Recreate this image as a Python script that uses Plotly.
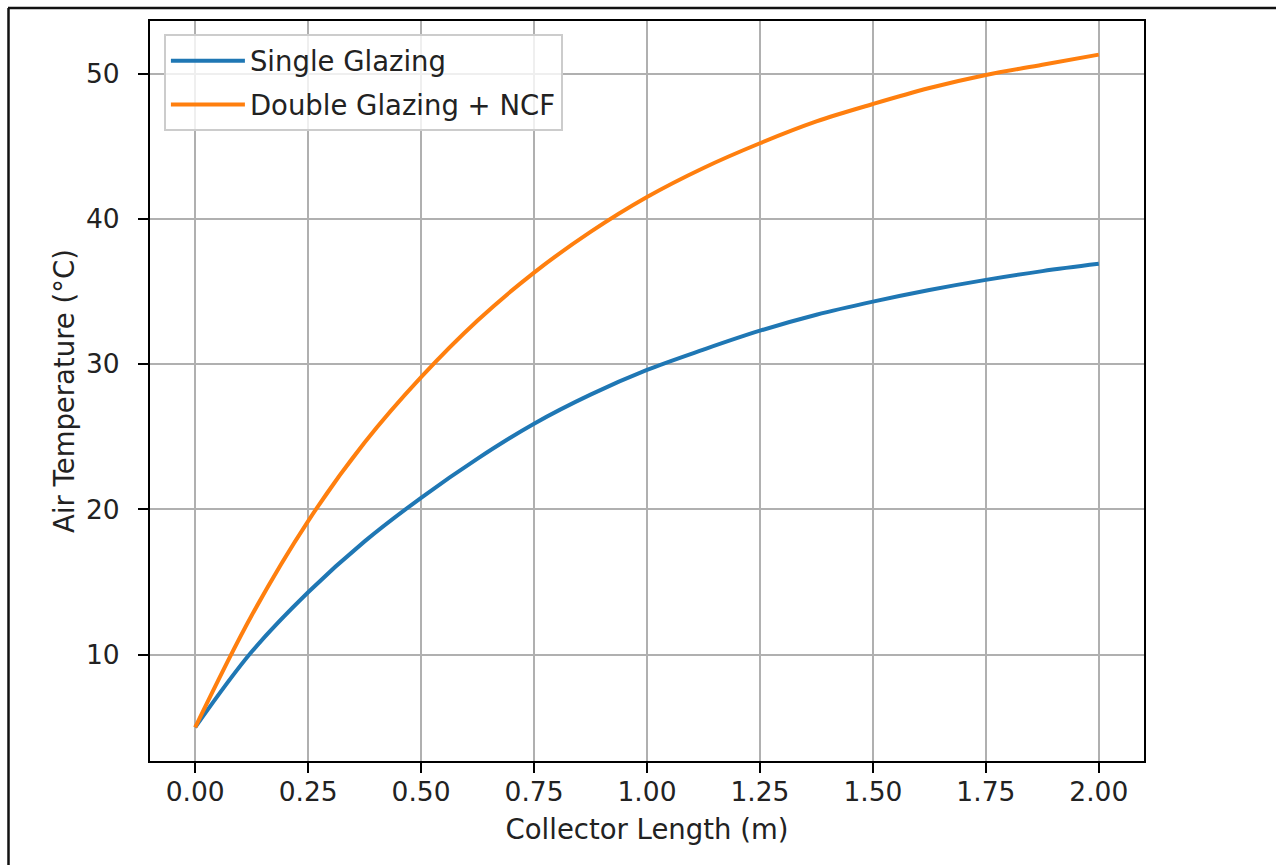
import plotly.graph_objects as go

# Data
collector_length = [0.0, 0.125, 0.25, 0.375, 0.5, 0.625, 0.75, 0.875, 1.0,
                    1.125, 1.25, 1.375, 1.5, 1.625, 1.75, 1.875, 2.0]
single_glazing = [5.0, 10.2, 14.3, 17.8, 20.8, 23.5, 25.9, 27.9, 29.6,
                  31.0, 32.3, 33.4, 34.3, 35.1, 35.8, 36.4, 36.9]
double_glazing_ncf = [5.0, 12.7, 19.2, 24.6, 29.1, 33.0, 36.3, 39.1, 41.5,
                      43.5, 45.2, 46.7, 47.9, 49.0, 49.9, 50.6, 51.3]
series_names = ["Single Glazing", "Double Glazing + NCF"]
series_colors = ["#1f77b4", "#ff7f0e"]
x_ticks = [0.0, 0.25, 0.5, 0.75, 1.0, 1.25, 1.5, 1.75, 2.0]
y_ticks = [10, 20, 30, 40, 50]

W, H = 1276, 865
L, R, T, B = 150, 1144, 21, 761
FONT = "DejaVu Sans"
FS = 26.5
FS_TITLE = 27.5

fig = go.Figure()
for name, ys, col in zip(series_names, [single_glazing, double_glazing_ncf], series_colors):
    fig.add_trace(go.Scatter(
        x=collector_length, y=ys, mode="lines", name=name,
        line=dict(color=col, width=4, shape="spline", smoothing=1.0),
        legendgroup=name,
    ))

xmin, xmax = min(collector_length), max(collector_length)
allv = single_glazing + double_glazing_ncf
ymin, ymax = min(allv), max(allv)
xpad = 0.05 * (xmax - xmin)
ypad = 0.05 * (ymax - ymin)

axis_common = dict(
    showgrid=True, gridcolor="#b0b0b0", gridwidth=2,
    showline=True, linecolor="#000000", linewidth=2, mirror=True,
    ticks="outside", ticklen=10, tickwidth=2, tickcolor="#000000",
    zeroline=False,
    tickfont=dict(family=FONT, size=FS, color="#222222"),
)

fig.update_layout(
    width=W, height=H,
    paper_bgcolor="white", plot_bgcolor="white",
    margin=dict(l=L, r=W - R, t=T, b=H - B, pad=0),
    font=dict(family=FONT, size=FS, color="#222222"),
    showlegend=True,
    legend=dict(
        x=0.014, y=0.982, xanchor="left", yanchor="top",
        bgcolor="rgba(255,255,255,0.8)", bordercolor="#cccccc", borderwidth=2,
        font=dict(family=FONT, size=FS_TITLE, color="#222222"),
        tracegroupgap=5, itemwidth=74,
    ),
    xaxis=dict(
        range=[xmin - xpad, xmax + xpad], tickvals=x_ticks,
        ticktext=[f"{v:.2f}" for v in x_ticks],
        title=dict(text="Collector Length (m)", standoff=14,
                   font=dict(family=FONT, size=FS_TITLE, color="#222222")),
        ticklabelstandoff=-4,
        **axis_common,
    ),
    yaxis=dict(
        range=[ymin - ypad, ymax + ypad], tickvals=y_ticks,
        title=dict(text="Air Temperature (°C)", standoff=3,
                   font=dict(family=FONT, size=FS_TITLE, color="#222222")),
        ticklabelstandoff=13,
        **axis_common,
    ),
)

# Document frame lines around the embedded image (decoration)
pw, ph = R - L, B - T
def px(xp):
    return (xp - L) / pw
def py(yp):
    return (B - yp) / ph

fig.add_shape(type="line", xref="paper", yref="paper",
              x0=px(8), x1=px(W + 5), y0=py(8), y1=py(8),
              line=dict(color="#111111", width=2.5))
fig.add_shape(type="line", xref="paper", yref="paper",
              x0=px(8.5), x1=px(8.5), y0=py(8), y1=py(H + 5),
              line=dict(color="#111111", width=2.5))

fig.write_html(
    "out.html",
    config={"displayModeBar": False},
    post_script="document.body.style.margin='0';document.body.style.overflow='hidden';",
)
